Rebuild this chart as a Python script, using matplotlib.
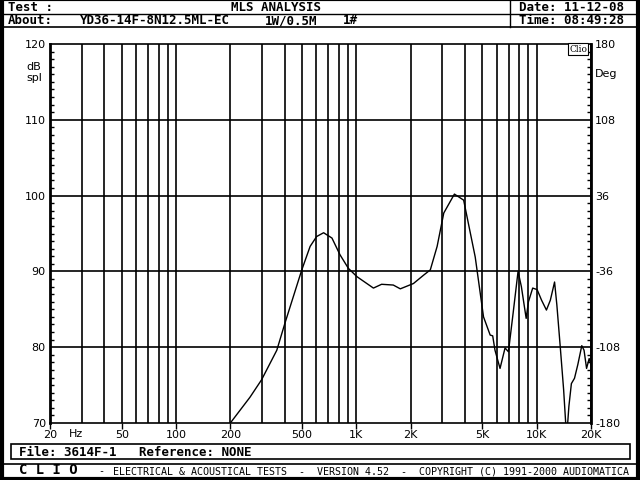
import numpy as np
import matplotlib
matplotlib.use("Agg")
import matplotlib.pyplot as plt
from matplotlib.lines import Line2D
from matplotlib.patches import Rectangle

# response curve (Hz, dB spl)
freq = [200, 257, 298, 362, 402, 498, 554, 602, 658, 732, 811, 903, 1008, 1243, 1380,
        1602, 1752, 2072, 2358, 2570, 2804, 3052, 3496, 3934, 4108, 4560, 5070,
        5520, 5700, 5870, 6260, 6674, 6970, 7400, 7880, 8220, 8740, 9000, 9500,
        10050, 10640, 11320, 11900, 12560, 12930, 13500, 14100, 14520, 14800,
        15080, 15570, 16200, 16900, 17780, 18300, 18900, 19540, 20000]
spl = [70.0, 73.4, 75.7, 79.6, 83.2, 90.2, 93.3, 94.6, 95.1, 94.4, 92.2, 90.4, 89.3, 87.8, 88.3,
       88.2, 87.7, 88.4, 89.5, 90.2, 93.3, 97.7, 100.2, 99.4, 97.2, 91.9, 84.0,
       81.6, 81.5, 79.6, 77.2, 79.9, 79.4, 84.5, 90.0, 88.0, 83.8, 86.0, 87.8,
       87.6, 86.2, 84.9, 86.2, 88.6, 85.6, 80.1, 74.4, 69.5, 69.5,
       72.2, 75.2, 75.9, 77.7, 80.2, 79.6, 77.2, 78.5, 77.7]

grid_freqs = [20, 30, 40, 50, 60, 70, 80, 90, 100, 200, 300, 400, 500, 600, 700, 800, 900,
              1000, 2000, 3000, 4000, 5000, 6000, 7000, 8000, 9000, 10000, 20000]
x_ticks = [20, 50, 100, 200, 500, 1000, 2000, 5000, 10000, 20000]
x_labels = ["20", "50", "100", "200", "500", "1K", "2K", "5K", "10K", "20K"]
db_ticks = [70, 80, 90, 100, 110, 120]
deg_ticks = [-180, -108, -36, 36, 108, 180]

W, H = 640, 480
fig = plt.figure(figsize=(6.4, 4.8), dpi=100)
fig.patch.set_facecolor("white")

def fx(px):
    return px / W

def fy(py):
    return 1 - py / H

mono = "DejaVu Sans Mono"

# outer frame (top edge mostly off the canvas, so it shows thin)
fig.add_artist(Rectangle((fx(1.5), fy(478.5)), fx(636), 479.5 / H, transform=fig.transFigure,
                         fill=False, edgecolor="black", linewidth=3, clip_on=False))
# header lines
fig.add_artist(Line2D([0, 1], [fy(13.5), fy(13.5)], transform=fig.transFigure, color="black", lw=1))
fig.add_artist(Line2D([0, 1], [fy(26.5), fy(26.5)], transform=fig.transFigure, color="black", lw=1.2))
fig.add_artist(Line2D([fx(509.5), fx(509.5)], [fy(0), fy(26.5)], transform=fig.transFigure, color="black", lw=1))

hdr = dict(family=mono, fontsize=9, fontweight="bold", va="baseline")
fig.text(fx(8), fy(11), "Test :", **hdr)
fig.text(fx(276), fy(11), "MLS ANALYSIS", ha="center", **hdr)
fig.text(fx(519), fy(11), "Date: 11-12-08", **hdr)
fig.text(fx(8), fy(24), "About:", **hdr)
fig.text(fx(80), fy(24), "YD36-14F-8N12.5ML-EC", **hdr)
fig.text(fx(265), fy(24), "1W/0.5M", **hdr)
fig.text(fx(343), fy(24), "1#", **hdr)
fig.text(fx(519), fy(24), "Time: 08:49:28", **hdr)

# footer
fig.add_artist(Rectangle((fx(10.5), fy(458.5)), fx(619), 14.5 / H, transform=fig.transFigure,
                         fill=False, edgecolor="black", linewidth=1.2))
fig.text(fx(19), fy(456), "File: 3614F-1   Reference: NONE", family=mono, fontsize=9,
         fontweight="bold", va="baseline")
fig.add_artist(Line2D([0, 1], [fy(463.5), fy(463.5)], transform=fig.transFigure, color="black", lw=1.2))
fig.text(fx(19), fy(474.5), "C L I O", family=mono, fontsize=10, fontweight="bold", va="baseline")
fig.text(fx(98), fy(474.5), "-", family=mono, fontsize=7.2, va="baseline")
fig.text(fx(113), fy(474.5), "ELECTRICAL & ACOUSTICAL TESTS  -  VERSION 4.52  -  COPYRIGHT (C) 1991-2000 AUDIOMATICA",
         family=mono, fontsize=7.2, va="baseline")

# plot area
ax = fig.add_axes([fx(50), fy(423), fx(591 - 50), (423 - 44) / H])
ax.set_xscale("log")
ax.set_xlim(20, 20000)
ax.set_ylim(70, 120)
for f in grid_freqs:
    ax.axvline(f, color="black", lw=1.2, zorder=1)
for d in db_ticks[1:-1]:
    ax.axhline(d, color="black", lw=1.2, zorder=1)
ax.plot(freq, spl, color="black", lw=1.0, zorder=3, clip_on=True)

ax.set_xticks(x_ticks)
ax.set_xticklabels(x_labels)
ax.xaxis.set_minor_locator(matplotlib.ticker.NullLocator())
ax.tick_params(axis="x", direction="out", length=4, width=1, labelsize=8, pad=1)
ax.set_yticks(db_ticks)
ax.set_yticklabels([str(v) for v in db_ticks])
ax.set_yticks(np.arange(70, 121, 1), minor=True)
ax.tick_params(axis="y", which="major", direction="in", length=0, labelsize=8, pad=3)
ax.tick_params(axis="y", which="minor", direction="in", length=3, width=1)
for s in ["left", "right"]:
    ax.spines[s].set_linewidth(2)
for s in ["top", "bottom"]:
    ax.spines[s].set_linewidth(1.2)

ax2 = ax.twinx()
ax2.set_ylim(-180, 180)
ax2.set_yticks(deg_ticks)
ax2.set_yticklabels([str(v) for v in deg_ticks])
ax2.set_yticks(np.arange(-180, 181, 7.2), minor=True)
ax2.tick_params(axis="y", which="major", direction="in", length=0, labelsize=8, pad=3)
ax2.tick_params(axis="y", which="minor", direction="in", length=3, width=1)
for s in ax2.spines.values():
    s.set_visible(False)

fig.text(fx(76), fy(434), "Hz", fontsize=8, ha="center", va="center")
fig.text(fx(34), fy(67), "dB", fontsize=8, ha="center", va="center")
fig.text(fx(34), fy(78), "spl", fontsize=8, ha="center", va="center")
fig.text(fx(606), fy(74), "Deg", fontsize=8, ha="center", va="center")
fig.text(fx(578), fy(49), "Clio", family="DejaVu Serif", fontsize=6.5, ha="center", va="center",
         bbox=dict(boxstyle="square,pad=0.15", fc="white", ec="black", lw=0.8))

fig.savefig("out.png", dpi=100)
